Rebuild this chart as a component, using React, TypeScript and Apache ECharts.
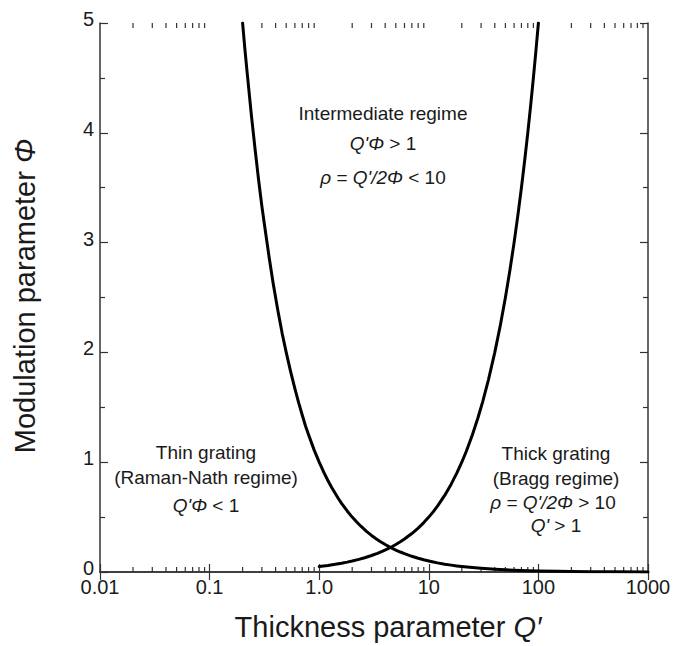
import React, { useEffect, useRef } from "react";
import * as echarts from "echarts";

// Thickness parameter Q' (x) and modulation parameter Φ (y)
const thinQ = [0.2, 0.21, 0.22, 0.24, 0.26, 0.28, 0.3, 0.32, 0.35, 0.38, 0.42, 0.46, 0.5, 0.55, 0.6, 0.65, 0.7, 0.75, 0.8, 0.9, 1, 1.1, 1.2, 1.3, 1.5, 1.6, 1.8, 2, 2.2, 2.4, 2.7, 3, 3.3, 3.6, 4, 4.5, 5, 5.5, 6, 7, 8, 9, 10, 11, 12, 14, 16, 18, 20, 25, 30, 35, 40, 50, 60, 70, 80, 100, 150, 200, 300, 500, 1000];
const thinPhi = [5, 4.76, 4.55, 4.17, 3.85, 3.57, 3.33, 3.13, 2.86, 2.63, 2.38, 2.17, 2, 1.82, 1.67, 1.54, 1.43, 1.33, 1.25, 1.11, 1, 0.909, 0.833, 0.769, 0.667, 0.625, 0.556, 0.5, 0.455, 0.417, 0.37, 0.333, 0.303, 0.278, 0.25, 0.222, 0.2, 0.182, 0.167, 0.143, 0.125, 0.111, 0.1, 0.0909, 0.0833, 0.0714, 0.0625, 0.0556, 0.05, 0.04, 0.0333, 0.0286, 0.025, 0.02, 0.0167, 0.0143, 0.0125, 0.01, 0.0067, 0.005, 0.0033, 0.002, 0.001];

const braggQ = [1, 1.2, 1.4, 1.6, 1.8, 2, 2.3, 2.6, 3, 3.4, 3.8, 4.2, 4.6, 5, 5.5, 6, 7, 8, 9, 10, 11, 12, 14, 16, 18, 20, 22, 25, 28, 31, 35, 40, 45, 50, 55, 60, 65, 70, 75, 80, 85, 90, 95, 100];
const braggPhi = [0.05, 0.06, 0.07, 0.08, 0.09, 0.1, 0.115, 0.13, 0.15, 0.17, 0.19, 0.21, 0.23, 0.25, 0.275, 0.3, 0.35, 0.4, 0.45, 0.5, 0.55, 0.6, 0.7, 0.8, 0.9, 1, 1.1, 1.25, 1.4, 1.55, 1.75, 2, 2.25, 2.5, 2.75, 3, 3.25, 3.5, 3.75, 4, 4.25, 4.5, 4.75, 5];

const xTickLabels = ["0.01", "0.1", "1.0", "10", "100", "1000"];
const xDecades = [0.01, 0.1, 1, 10, 100];
const minorMultipliers = [2, 3, 4, 5, 6, 7, 8, 9];

const FONT = "'Liberation Sans', Arial, Helvetica, sans-serif";
const AXIS_COLOR = "#333";
const TEXT_COLOR = "#1a1a1a";
const ANNOT_SIZE = 19;
const TITLE_SIZE = 29;

export default function App() {
  const ref = useRef<HTMLDivElement>(null);

  useEffect(() => {
    if (!ref.current) return;
    const chart = echarts.init(ref.current, null, { renderer: "svg" });

    const minorX: number[][] = [];
    xDecades.forEach((d) => minorMultipliers.forEach((m) => minorX.push([d * m, 0])));

    const italic = { fontStyle: "italic", fontFamily: FONT, fontSize: ANNOT_SIZE, fill: TEXT_COLOR };
    const annot = (x: number, y: number, text: string) => ({
      type: "text",
      x,
      y,
      style: {
        text,
        fontFamily: FONT,
        fontSize: ANNOT_SIZE,
        fill: TEXT_COLOR,
        textAlign: "center",
        textVerticalAlign: "middle",
        rich: { i: italic, n: { fontFamily: FONT, fontSize: ANNOT_SIZE, fill: TEXT_COLOR } },
      },
    });

    const axisLine = { show: true, lineStyle: { color: AXIS_COLOR, width: 1.5 } };
    const tick = { show: true, inside: true, length: 8, lineStyle: { color: AXIS_COLOR, width: 1.2 } };

    chart.setOption({
      animation: false,
      backgroundColor: "#fff",
      grid: { left: 100, right: 27, top: 23, bottom: 74, containLabel: false },
      xAxis: [
        {
          type: "log",
          logBase: 10,
          min: 0.01,
          max: 1000,
          position: "bottom",
          axisLine,
          axisTick: tick,
          splitLine: { show: false },
          axisLabel: {
            fontFamily: FONT,
            fontSize: 20,
            color: TEXT_COLOR,
            margin: 7,
            lineHeight: 16,
            formatter: (_v: number, i: number) => xTickLabels[i] ?? "",
          },
        },
        {
          type: "log",
          logBase: 10,
          min: 0.01,
          max: 1000,
          position: "top",
          axisLine,
          axisTick: tick,
          splitLine: { show: false },
          axisLabel: { show: false },
        },
      ],
      yAxis: [
        {
          type: "value",
          min: 0,
          max: 5,
          interval: 1,
          position: "left",
          axisLine,
          axisTick: tick,
          minorTick: { show: true, splitNumber: 2, length: 5, lineStyle: { color: AXIS_COLOR, width: 1.2 } },
          splitLine: { show: false },
          minorSplitLine: { show: false },
          axisLabel: {
            fontFamily: FONT,
            fontSize: 20,
            color: TEXT_COLOR,
            margin: 6,
            verticalAlign: "bottom",
            lineHeight: 8,
          },
        },
        {
          type: "value",
          min: 0,
          max: 5,
          interval: 1,
          position: "right",
          axisLine,
          axisTick: tick,
          minorTick: { show: true, splitNumber: 2, length: 5, lineStyle: { color: AXIS_COLOR, width: 1.2 } },
          splitLine: { show: false },
          minorSplitLine: { show: false },
          axisLabel: { show: false },
        },
      ],
      series: [
        {
          type: "line",
          name: "Q'Φ = 1",
          data: thinQ.map((q, i) => [q, thinPhi[i]]),
          showSymbol: false,
          symbol: "none",
          smooth: false,
          lineStyle: { color: "#000", width: 3, join: "round", cap: "round" },
          clip: true,
          z: 5,
        },
        {
          type: "line",
          name: "ρ = 10",
          data: braggQ.map((q, i) => [q, braggPhi[i]]),
          showSymbol: false,
          symbol: "none",
          smooth: false,
          lineStyle: { color: "#000", width: 3, join: "round", cap: "round" },
          clip: true,
          z: 5,
        },
        {
          type: "custom",
          name: "minorTicks",
          data: minorX,
          clip: false,
          silent: true,
          z: 4,
          renderItem: (_p: any, api: any) => {
            const x = api.value(0);
            const b = api.coord([x, 0]);
            const t = api.coord([x, 5]);
            const st = { stroke: AXIS_COLOR, lineWidth: 1.2 };
            return {
              type: "group",
              children: [
                { type: "line", shape: { x1: b[0], y1: b[1], x2: b[0], y2: b[1] - 5 }, style: st },
                { type: "line", shape: { x1: t[0], y1: t[1], x2: t[0], y2: t[1] + 5 }, style: st },
              ],
            };
          },
        },
      ],
      graphic: [
        {
          type: "text",
          x: 388,
          y: 627,
          style: {
            text: "Thickness parameter {i|Q′}",
            fontFamily: FONT,
            fontSize: TITLE_SIZE,
            fill: TEXT_COLOR,
            textAlign: "center",
            textVerticalAlign: "middle",
            rich: { i: { fontStyle: "italic", fontFamily: FONT, fontSize: TITLE_SIZE, fill: TEXT_COLOR } },
          },
        },
        {
          type: "text",
          x: 25,
          y: 296,
          rotation: Math.PI / 2,
          style: {
            text: "Modulation parameter {i|Φ}",
            fontFamily: FONT,
            fontSize: TITLE_SIZE,
            fill: TEXT_COLOR,
            textAlign: "center",
            textVerticalAlign: "middle",
            rich: { i: { fontStyle: "italic", fontFamily: FONT, fontSize: TITLE_SIZE, fill: TEXT_COLOR } },
          },
        },
        annot(383, 113, "Intermediate regime"),
        annot(383, 143, "{i|Q'Φ}{n| > 1}"),
        annot(383, 177, "{i|ρ}{n| = }{i|Q'/2Φ}{n| < 10}"),
        annot(206, 452, "Thin grating"),
        annot(206, 477, "(Raman-Nath regime)"),
        annot(206, 505, "{i|Q'Φ}{n| < 1}"),
        annot(556, 453, "Thick grating"),
        annot(556, 478, "(Bragg regime)"),
        annot(553, 502, "{i|ρ}{n| = }{i|Q'/2Φ}{n| > 10}"),
        annot(556, 525, "{i|Q'}{n| > 1}"),
      ],
    });

    return () => chart.dispose();
  }, []);

  return (
    <div
      ref={ref}
      style={{ position: "fixed", left: 0, top: 0, width: 675, height: 646, background: "#fff" }}
    />
  );
}
